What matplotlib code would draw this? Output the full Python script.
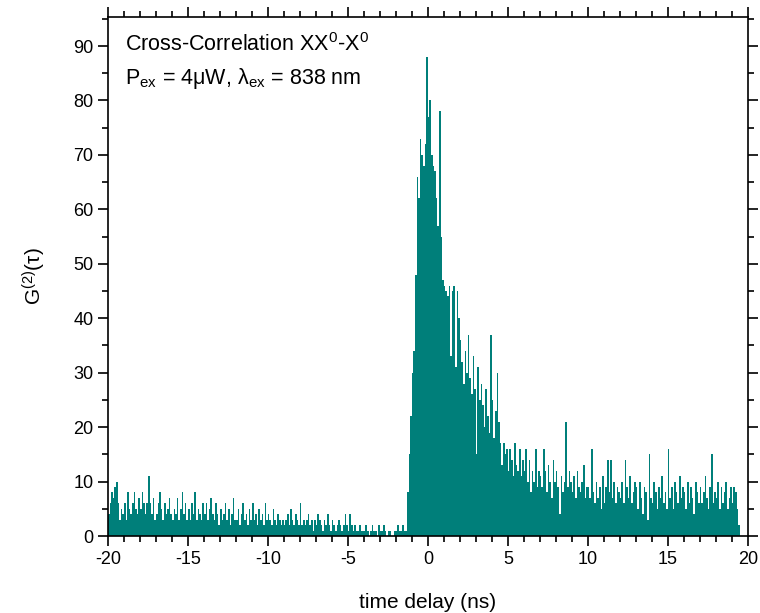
import numpy as np
import matplotlib
matplotlib.use("Agg")
import matplotlib.pyplot as plt
from matplotlib.ticker import MultipleLocator

plt.rcParams['font.family'] = ['Liberation Sans', 'DejaVu Sans']
plt.rcParams['mathtext.fontset'] = 'custom'
plt.rcParams['mathtext.rm'] = 'Liberation Sans'
plt.rcParams['mathtext.it'] = 'Liberation Sans:italic'
plt.rcParams['axes.unicode_minus'] = False

# histogram bins: start -20 ns, width 0.1 ns
bin_start = -20.0
bin_width = 0.1
counts = [
    4, 6, 8, 7, 9, 10, 6, 3, 5, 4,       # -20
    6, 3, 8, 5, 4, 6, 8, 5, 4, 7,        # -19
    5, 8, 6, 4, 6, 11, 6, 4, 7, 3,       # -18
    4, 6, 8, 5, 3, 6, 4, 5, 7, 4,        # -17
    3, 5, 4, 7, 3, 5, 8, 4, 6, 3,        # -16
    5, 3, 6, 4, 8, 3, 5, 4, 3, 6,        # -15
    4, 6, 3, 5, 7, 4, 3, 6, 4, 2,        # -14
    5, 3, 4, 6, 3, 5, 2, 4, 7, 3,        # -13
    3, 5, 2, 4, 6, 3, 4, 2, 5, 3,        # -12
    6, 3, 4, 2, 5, 3, 4, 2, 6, 3,        # -11
    4, 3, 2, 5, 3, 2, 4, 3, 2, 3,        # -10
    2, 3, 4, 2, 5, 3, 2, 4, 3, 2,        # -9
    6, 2, 3, 2, 3, 4, 2, 3, 1, 3,        # -8
    2, 4, 3, 2, 1, 3, 2, 4, 2, 1,        # -7
    3, 2, 1, 2, 3, 2, 1, 2, 4, 2,        # -6
    1, 4, 2, 1, 2, 1, 1, 2, 1, 1,        # -5
    1, 2, 1, 0, 1, 2, 1, 1, 0, 2,        # -4
    1, 1, 2, 1, 0, 1, 1, 0, 0, 1,        # -3
    1, 2, 1, 1, 2, 1, 1, 8, 15, 22,      # -2
    30, 34, 48, 66, 62, 73, 70, 68, 72, 88,  # -1
    77, 80, 70, 68, 67, 62, 57, 78, 55, 47,  # 0
    46, 45, 44, 46, 33, 45, 46, 31, 45, 40,  # 1
    36, 32, 28, 34, 30, 37, 29, 26, 33, 27,  # 2
    15, 31, 25, 28, 24, 20, 27, 22, 19, 37,  # 3
    25, 18, 23, 30, 21, 17, 13, 17, 15, 16,  # 4
    12, 16, 14, 11, 17, 13, 12, 16, 11, 14,  # 5
    12, 16, 10, 14, 8, 12, 10, 16, 9, 12,    # 6
    11, 9, 16, 12, 8, 13, 10, 7, 14, 10,     # 7
    12, 9, 4, 11, 8, 10, 21, 9, 12, 10,      # 8
    8, 11, 7, 12, 9, 8, 10, 13, 7, 9,        # 9
    9, 7, 16, 8, 6, 10, 7, 9, 5, 11,         # 10
    6, 9, 14, 8, 14, 7, 10, 6, 9, 8,         # 11
    7, 10, 6, 14, 9, 7, 11, 6, 8, 10,        # 12
    9, 5, 10, 7, 4, 9, 8, 3, 15, 7,          # 13
    6, 10, 8, 5, 9, 7, 11, 6, 8, 5,          # 14
    16, 7, 9, 5, 10, 8, 6, 11, 7, 9,         # 15
    8, 5, 10, 6, 9, 7, 4, 10, 8, 6,          # 16
    9, 6, 8, 11, 7, 5, 9, 15, 6, 8,          # 17
    7, 10, 5, 9, 6, 8, 10, 5, 7, 9,          # 18
    6, 9, 8, 5, 2,                           # 19
]

x_ticks = [-20, -15, -10, -5, 0, 5, 10, 15, 20]
y_ticks = [0, 10, 20, 30, 40, 50, 60, 70, 80, 90]
bar_color = '#007f7a'

counts = np.array(counts, dtype=float)
edges = bin_start + bin_width * np.arange(len(counts))

fig = plt.figure(figsize=(7.6, 6.13), dpi=100)
ax = fig.add_axes([0.142, 0.1256, 0.842, 0.8464])
ax.bar(edges, counts, width=bin_width, align='edge', color=bar_color,
       linewidth=0, antialiased=True)

ax.set_xlim(-20, 20)
ax.set_ylim(0, 95.3)
ax.set_xticks(x_ticks)
ax.set_yticks(y_ticks)
ax.xaxis.set_minor_locator(MultipleLocator(1))
ax.yaxis.set_minor_locator(MultipleLocator(5))
ax.tick_params(which='both', direction='out', top=True, right=True,
               width=1.2, labelsize=13)
ax.tick_params(which='major', length=7)
ax.tick_params(which='minor', length=4)
for s in ax.spines.values():
    s.set_linewidth(1.2)

ax.set_xlabel('time delay (ns)', fontsize=15, labelpad=18)
ax.set_ylabel('G$^{(2)}$(τ)', fontsize=15, labelpad=18)

ax.text(0.027, 0.97, r'Cross-Correlation XX$^{0}$-X$^{0}$', transform=ax.transAxes,
        fontsize=15.5, va='top', ha='left')
ax.text(0.027, 0.905, r'P$_{\rm ex}$ = 4μW, λ$_{\rm ex}$ = 838 nm', transform=ax.transAxes,
        fontsize=15.5, va='top', ha='left')

fig.savefig('out.png', dpi=100)
